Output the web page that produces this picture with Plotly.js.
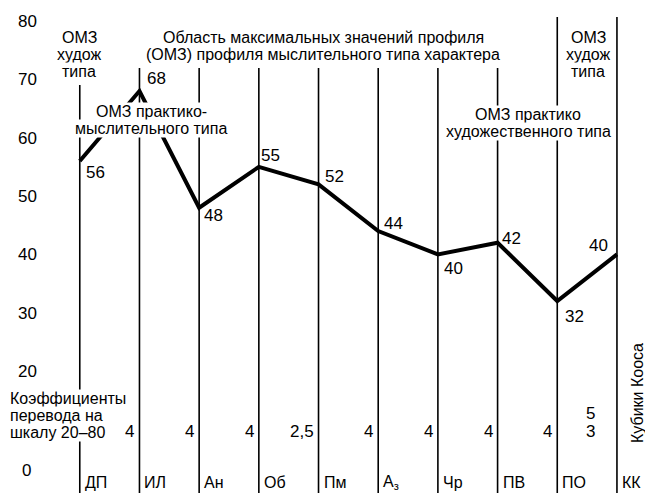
<!DOCTYPE html>
<html><head><meta charset="utf-8">
<script src="https://cdn.plot.ly/plotly-3.0.1.min.js"></script>
<style>html,body{margin:0;padding:0;background:#fff}#chart{width:645px;height:493px}</style>
</head><body><div id="chart"></div>
<script>
// ---- data ----
const categories = ['ДП','ИЛ','Ан','Об','Пм','Аз','Чр','ПВ','ПО','КК'];
const categoryLabels = ['ДП','ИЛ','Ан','Об','Пм','А<sub>з</sub>','Чр','ПВ','ПО','КК'];
const values = [56, 68, 48, 55, 52, 44, 40, 42, 32, 40];
const valueLabels = ['56','68','48','55','52','44','40','42','32','40'];
const coefficients = ['4','4','4','2,5','4','4','4','4','5<br>3',''];
const yTickVals = [20, 30, 40, 50, 60, 70, 80];
const yTickText = ['20','30','40','50','60','70','80'];

// ---- geometry helpers ----
const W = 645, H = 493, L = 38, R = 0;
const Y_TOP = 83.6, Y_BOT = -0.9;
const py2y = py => Y_TOP - py * (Y_TOP - Y_BOT) / H;
const px2p = px => (px - L) / (W - L - R);
const FONT = 'Liberation Sans, Arial, sans-serif';

const ann = [];
function block(lines, cx, ys, anchor, size, bg) {
  lines.forEach((t, i) => ann.push({
    xref: 'paper', yref: 'y', x: px2p(cx), y: py2y(ys[i]), text: t,
    showarrow: false, xanchor: anchor, yanchor: 'middle',
    font: {family: FONT, size: size, color: '#000'},
    bgcolor: bg ? '#fff' : 'rgba(0,0,0,0)', borderpad: 0
  }));
}
block(['ОМЗ','худож','типа'], 79, [37, 54, 71], 'center', 16, true);
block(['ОМЗ','худож','типа'], 588, [37, 54, 71], 'center', 16, true);
block(['Область максимальных значений профиля','(ОМЗ) профиля мыслительного типа характера'], 323, [37, 54], 'center', 16, true);
block(['ОМЗ практико-','мыслительного типа'], 151, [111, 128], 'center', 16, true);
block(['ОМЗ практико','художественного типа'], 528, [114, 131], 'center', 16, true);
block(['Коэффициенты','перевода на','шкалу 20–80'], 9, [398, 415, 432], 'left', 16, true);
block(['0'], 26, [470], 'center', 17, false);

// value labels next to each point
const labelShift = [[16,-11],[17,13],[14,-8],[12,11],[16,8],[15,8],[16,-14],[14,4],[17,-15],[-18,9]];
values.forEach((v, i) => ann.push({
  xref: 'x', yref: 'y', x: categories[i], y: v, text: valueLabels[i],
  showarrow: false, xanchor: 'center', yanchor: 'middle',
  xshift: labelShift[i][0], yshift: labelShift[i][1],
  font: {family: FONT, size: 17, color: '#000'}
}));

// coefficient numbers, right-aligned against next vertical line
coefficients.forEach((c, i) => {
  if (!c || i + 1 >= categories.length) return;
  if (c.indexOf('<br>') >= 0) {
    c.split('<br>').forEach((t, k) => ann.push({
      xref: 'x', yref: 'y', x: categories[i + 1], y: py2y(413 + k * 18), text: t,
      showarrow: false, xanchor: 'right', yanchor: 'middle', xshift: -20,
      font: {family: FONT, size: 17, color: '#000'}
    }));
  } else {
    ann.push({
      xref: 'x', yref: 'y', x: categories[i + 1], y: py2y(431), text: c,
      showarrow: false, xanchor: 'right', yanchor: 'middle', xshift: -3,
      font: {family: FONT, size: 17, color: '#000'}
    });
  }
});
// category labels
categories.forEach((c, i) => ann.push({
  xref: 'x', yref: 'y', x: c, y: py2y(482), text: categoryLabels[i],
  showarrow: false, xanchor: 'left', yanchor: 'middle', xshift: 3,
  font: {family: FONT, size: 16, color: '#000'}
}));
// rotated label
ann.push({xref: 'paper', yref: 'y', x: px2p(637), y: py2y(393), text: 'Кубики Кооса',
  showarrow: false, textangle: -90, xanchor: 'center', yanchor: 'middle',
  font: {family: FONT, size: 16, color: '#000'}});

// vertical lines
const tops = categories.map((c, i) => i === 0 ? py2y(85) : (i >= 8 ? py2y(17) : py2y(68)));
const shapes = categories.map((c, i) => ({
  type: 'line', xref: 'x', yref: 'y', x0: c, x1: c, y0: Y_BOT - 1, y1: tops[i],
  line: {color: '#000', width: 1.6}, layer: 'below'
}));

const trace = {
  x: categories, y: values, type: 'scatter', mode: 'lines',
  line: {color: '#000', width: 4},
  cliponaxis: false, hoverinfo: 'skip'
};

const layout = {
  width: W, height: H,
  margin: {l: L, r: R, t: 0, b: 0},
  paper_bgcolor: '#fff', plot_bgcolor: '#fff',
  showlegend: false,
  xaxis: {type: 'category', categoryarray: categories, range: [-0.7, 9.47],
    showgrid: false, zeroline: false, showticklabels: false, showline: false, ticks: ''},
  yaxis: {range: [Y_BOT, Y_TOP], tickvals: yTickVals, ticktext: yTickText,
    showgrid: false, zeroline: false, showline: false, ticks: '',
    tickfont: {family: FONT, size: 17, color: '#000'}},
  shapes: shapes, annotations: ann
};
Plotly.newPlot('chart', [trace], layout, {staticPlot: true, displayModeBar: false});
</script></body></html>
